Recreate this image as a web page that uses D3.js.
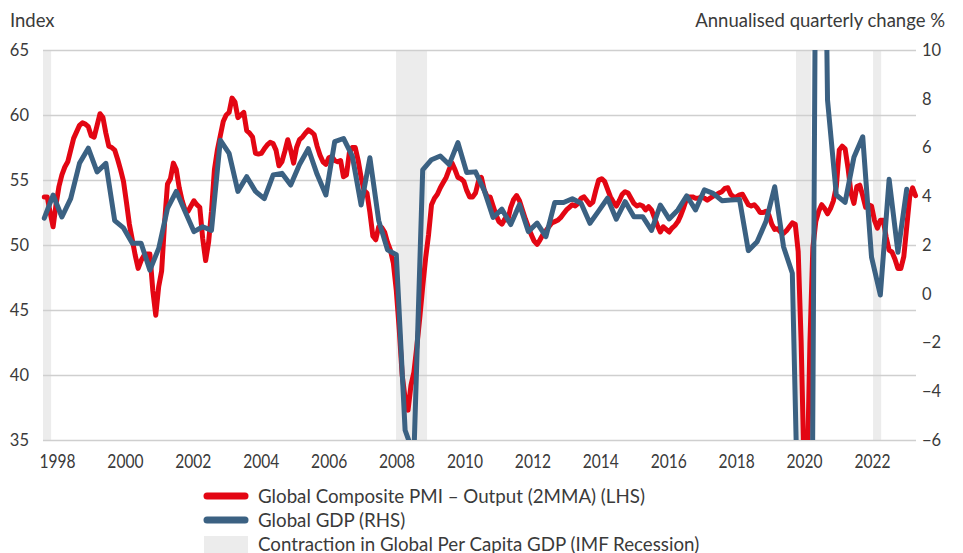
<!DOCTYPE html>
<html><head><meta charset="utf-8">
<script src="https://cdn.jsdelivr.net/npm/d3@7"></script>
<style>
body{margin:0;background:#fff;}
svg{display:block;font-family:Lato,"Open Sans",sans-serif;}
</style></head><body>
<svg id="chart" width="963" height="553"></svg>
<script>
// ---- DATA ----
// Global Composite PMI – Output (2MMA), monthly, starting Sep 1998
const pmiStart = {year: 1998, month: 9};
const pmiValues = [
53.7,53.7,52.5,51.4,53.1,54.5,55.4,56.0,56.4,57.3,58.2,58.7,
59.2,59.4,59.3,59.1,58.4,58.3,59.2,60.1,59.8,58.6,57.6,57.5,
57.3,56.6,55.8,54.9,53.3,51.6,50.4,49.2,48.2,48.8,49.2,49.3,
49.3,46.5,44.6,46.8,48.0,51.7,54.7,55.1,56.3,55.8,54.4,53.4,
52.7,52.6,53.0,53.4,53.1,52.9,50.5,48.8,50.2,52.6,55.8,57.3,
58.4,59.5,60.0,60.2,61.3,61.0,59.8,60.0,60.2,58.8,58.6,58.3,
57.05,57.0,57.05,57.4,57.7,57.9,57.8,57.3,56.1,56.4,57.2,58.1,
57.3,56.3,57.5,58.1,58.3,58.6,58.85,58.7,58.5,57.6,56.9,56.4,
56.2,56.7,56.8,56.5,56.4,56.5,55.25,55.4,57.1,57.5,57.5,56.5,
55.2,54.2,54.0,52.5,50.7,50.4,51.4,51.35,51.0,50.2,49.6,48.6,
46.5,43.5,40.0,38.2,37.3,39.2,40.2,42.2,44.4,46.8,49.0,50.8,
53.1,53.6,53.9,54.4,54.8,55.2,55.8,56.3,55.8,55.2,55.1,54.9,
54.2,53.7,53.7,54.0,54.9,55.2,54.2,53.7,53.7,53.0,52.3,51.8,
51.6,52.0,51.9,52.9,53.5,53.8,53.4,52.7,52.0,51.4,50.8,50.3,
50.05,50.4,50.8,51.1,51.4,51.7,51.8,51.9,52.1,52.4,52.7,52.9,
53.1,53.0,53.2,53.6,53.7,53.4,53.1,53.3,54.2,55.0,55.1,54.9,
54.3,53.7,53.3,53.0,53.4,53.9,54.1,54.0,53.6,53.2,53.0,53.1,
53.0,52.7,52.95,52.7,52.1,51.5,51.0,51.4,51.2,51.0,51.3,51.5,
51.8,52.3,52.9,53.6,53.7,53.7,53.6,53.6,53.7,53.6,53.45,53.6,
53.75,53.85,54.0,54.1,54.35,54.4,53.9,53.7,53.7,53.85,53.9,53.5,
53.1,53.0,53.1,52.85,52.5,52.5,52.6,52.3,51.6,51.2,51.25,51.0,
50.9,51.1,51.4,51.7,51.6,49.5,42.6,32.8,31.3,42.5,49.8,51.8,
52.6,53.1,52.8,52.4,52.8,53.4,54.5,57.3,57.6,57.4,55.9,54.0,
53.2,54.5,54.6,53.8,52.9,53.1,53.0,51.9,51.3,51.9,51.9,50.6,
49.6,49.45,48.9,48.2,48.2,49.1,51.4,53.7,54.4,53.8
];
// Global GDP, annualised quarterly change %, starting 1998 Q3
const gdpStart = {year: 1998, quarter: 3};
const gdpValues = [
3.1,4.05,3.15,3.9,5.35,5.97,5.0,5.35,3.0,2.7,2.07,2.07,
0.97,1.86,3.5,4.2,3.37,2.55,2.75,2.6,6.3,5.76,4.2,4.8,
4.2,3.9,4.87,4.94,4.46,5.3,5.95,4.9,4.05,6.24,6.37,5.65,
3.64,5.58,3.0,1.8,1.6,-5.6,-6.6,5.08,5.5,5.65,5.3,6.2,
4.97,5.0,4.23,3.13,3.47,2.84,3.66,2.55,2.9,2.34,3.74,3.74,
3.9,3.71,2.89,3.4,3.92,3.06,3.78,3.16,3.16,2.6,3.64,3.07,
3.44,4.02,3.44,4.26,4.12,3.82,3.85,3.87,1.77,2.13,2.96,4.39,
1.93,0.84,-15,-25,36,7.95,4.05,3.75,5.6,6.44,1.5,-0.05,
4.7,1.7,4.29
];
// IMF recession periods (decimal years)
const recessionStarts = [1998.63, 2008.66, 2020.02, 2022.21];
const recessionEnds   = [1998.86, 2009.54, 2020.45, 2022.44];
const leftTicks = [35, 40, 45, 50, 55, 60, 65];
const rightTicks = [-6, -4, -2, 0, 2, 4, 6, 8, 10];
const yearLabels = [1998, 2000, 2002, 2004, 2006, 2008, 2010, 2012, 2014, 2016, 2018, 2020, 2022];
const legendLabels = [
  "Global Composite PMI \u2013 Output (2MMA) (LHS)",
  "Global GDP (RHS)",
  "Contraction in Global Per Capita GDP (IMF Recession)"
];

// ---- BUILD ----
const L = 43, R = 916, T = 50, B = 440;
const RED = "#E30613", BLUE = "#3B6182", BAND = "#ECECEC", GRID = "#CFCFCF", TXT = "#3a3a3a";

const pmi = pmiValues.map((v, i) => ({t: pmiStart.year + (pmiStart.month - 1 + i) / 12, v}));
const gdp = gdpValues.map((v, i) => ({t: gdpStart.year + (gdpStart.quarter * 3 - 1) / 12 + i / 4, v}));

const svg = d3.select("#chart");
const x = d3.scaleLinear().domain([1998.63, 2023.43]).range([L, R]);
const xLab = d3.scaleLinear().domain([1998, 2022]).range([57, 872]);
const yL = d3.scaleLinear().domain([35, 65]).range([B, T]);
const yR = d3.scaleLinear().domain([-6, 10]).range([B, T]);

// recession bands
svg.append("g").selectAll("rect").data(recessionStarts).join("rect")
  .attr("x", (d) => x(d)).attr("width", (d, i) => x(recessionEnds[i]) - x(d))
  .attr("y", T).attr("height", B - T).attr("fill", BAND);

// left axis + gridlines
const gL = svg.append("g").attr("transform", `translate(${L},0)`)
  .call(d3.axisLeft(yL).tickValues(leftTicks).tickSize(-(R - L)).tickPadding(14));
gL.select(".domain").remove();
gL.selectAll("line").attr("stroke", GRID).attr("stroke-width", 1.4);
gL.selectAll("text").attr("fill", TXT).style("font-size", "16.5px").style("font-family", "Lato");

// right axis
const gR = svg.append("g").attr("transform", `translate(${R},0)`)
  .call(d3.axisRight(yR).tickValues(rightTicks).tickSize(0).tickPadding(6));
gR.select(".domain").remove();
gR.selectAll("text").attr("fill", TXT).style("font-size", "16.5px").style("font-family", "Lato");

// bottom year labels
const gX = svg.append("g").attr("transform", `translate(0,${B})`)
  .call(d3.axisBottom(xLab).tickValues(yearLabels).tickFormat(d3.format("d")).tickSize(0).tickPadding(15));
gX.select(".domain").remove();
gX.selectAll("text").attr("fill", TXT).style("font-size", "19px").style("font-family", "Lato")
  .attr("transform", "scale(0.82,1)");

// axis titles
svg.append("text").attr("x", 10).attr("y", 27).attr("fill", TXT)
  .style("font-size", "18.5px").text("Index");
svg.append("text").attr("x", 945).attr("y", 27).attr("text-anchor", "end").attr("fill", TXT)
  .style("font-size", "18.5px").text("Annualised quarterly change %");

// lines
svg.append("clipPath").attr("id", "clip").append("rect")
  .attr("x", L - 4).attr("y", T).attr("width", R - L + 8).attr("height", B - T);
const gLines = svg.append("g").attr("clip-path", "url(#clip)");
gLines.append("path").datum(pmi).attr("fill", "none").attr("stroke", RED).attr("stroke-width", 5)
  .attr("stroke-linejoin", "round").attr("stroke-linecap", "round")
  .attr("d", d3.line().x(d => x(d.t)).y(d => yL(d.v)));
gLines.append("path").datum(gdp).attr("fill", "none").attr("stroke", BLUE).attr("stroke-width", 5)
  .attr("stroke-linejoin", "round").attr("stroke-linecap", "round")
  .attr("d", d3.line().x(d => x(d.t)).y(d => yR(d.v)));

// legend
const leg = svg.append("g");
const rowY = [496, 520, 544];
leg.append("line").attr("x1", 207).attr("x2", 245).attr("y1", rowY[0]).attr("y2", rowY[0])
  .attr("stroke", RED).attr("stroke-width", 7).attr("stroke-linecap", "round");
leg.append("line").attr("x1", 207).attr("x2", 245).attr("y1", rowY[1]).attr("y2", rowY[1])
  .attr("stroke", BLUE).attr("stroke-width", 7).attr("stroke-linecap", "round");
leg.append("rect").attr("x", 204).attr("y", rowY[2] - 8).attr("width", 44).attr("height", 18).attr("fill", BAND);
const lt = leg.selectAll("text.l").data(legendLabels).join("text").attr("class", "l")
  .attr("fill", TXT).style("font-size", "19px")
  .attr("transform", (d, i) => `translate(258,${rowY[i] + 7})`)
  .text(d => d);
const w0 = lt.node().getComputedTextLength();
const sc = 387 / w0;
lt.attr("transform", (d, i) => `translate(258,${rowY[i] + 7}) scale(${sc},1)`);
</script>
</body></html>
